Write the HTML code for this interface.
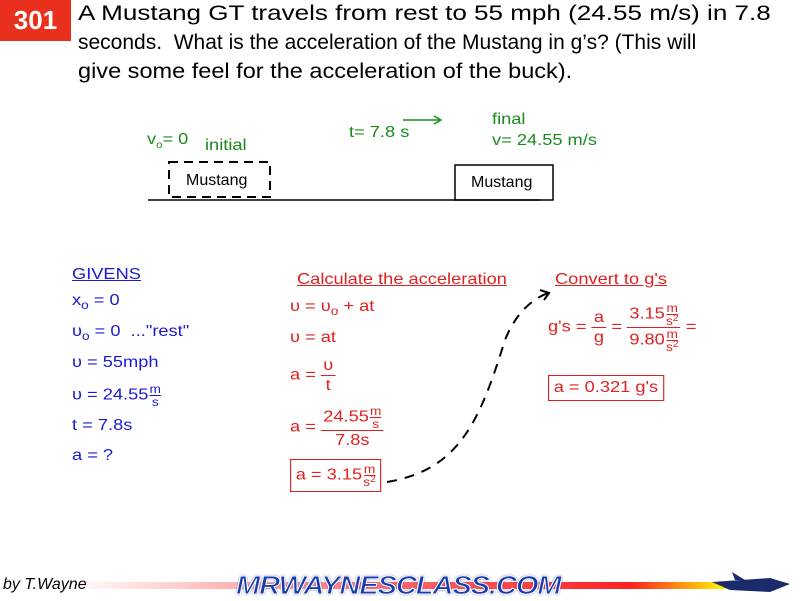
<!DOCTYPE html>
<html><head><style>
body{margin:0;width:800px;height:600px;background:#fff;position:relative;overflow:hidden;font-family:"Liberation Sans",sans-serif}
.a{position:absolute;white-space:nowrap;transform:scaleX(1.14);transform-origin:0 0}
.t{font-size:21px;color:#000;left:78px}
.g{color:#1a8a1a;font-size:16px}
.b{color:#1a1ad0;font-size:16px}
.r{color:#e02020;font-size:16px}
.fr{display:inline-flex;flex-direction:column;vertical-align:middle;align-items:center;font-size:16px}
.fr > .n{border-bottom:1px solid currentColor;line-height:19px;padding:0 2px}
.fr > .d{line-height:19px}
.sm{display:inline-flex;flex-direction:column;vertical-align:middle;align-items:center;font-size:12px;line-height:12px;margin-left:1px}
.sm > .n{border-bottom:1px solid currentColor}
sup{font-size:9px;vertical-align:4px;line-height:0}
</style></head><body>
<div class="a" style="left:0;top:0;width:71px;height:41px;background:#e8301c;color:#fff;font-weight:bold;font-size:26px;line-height:41px;text-align:center;transform:none">301</div>
<div class="a t" style="top:2px;transform:scaleX(1.24)">A Mustang GT travels from rest to 55 mph (24.55 m/s) in 7.8</div>
<div class="a t" style="top:31px;transform:none">seconds.&nbsp; What is the acceleration of the Mustang in g’s? (This will</div>
<div class="a t" style="top:60px;transform:scaleX(1.12)">give some feel for the acceleration of the buck).</div>

<div class="a g" style="left:147px;top:131px">v<sub style="font-size:10px">o</sub>= 0</div>
<div class="a g" style="left:205px;top:137px">initial</div>
<div class="a g" style="left:349px;top:124px">t= 7.8 s</div>
<svg style="position:absolute;left:0;top:0" width="800" height="600">
<line x1="403" y1="120" x2="440" y2="120" stroke="#1a8a1a" stroke-width="1.5"/>
<polyline points="434,116 441,120 434,124" fill="none" stroke="#1a8a1a" stroke-width="1.5"/>
<rect x="169" y="162" width="101" height="35" fill="none" stroke="#000" stroke-width="2" stroke-dasharray="9,6"/>
<rect x="455" y="165" width="98" height="35" fill="none" stroke="#000" stroke-width="1.5"/>
<line x1="148" y1="200" x2="540" y2="200" stroke="#000" stroke-width="1.5"/>
<path d="M387,482 C460,470 480,420 505,340 C515,315 530,300 548,293" fill="none" stroke="#000" stroke-width="2" stroke-dasharray="10,8"/>
<polyline points="540,290 549,293 544,300" fill="none" stroke="#000" stroke-width="2"/>
<defs><linearGradient id="lg" x1="0" x2="1"><stop offset="0" stop-color="#fff"/><stop offset="0.5" stop-color="#f66"/><stop offset="0.85" stop-color="#f22"/><stop offset="1" stop-color="#ff0"/></linearGradient></defs>
<rect x="70" y="582" width="660" height="7" fill="url(#lg)"/>
<path d="M712,582 L770,578 L790,584 L770,592 L730,590 Z" fill="#1a2a6a"/>
<path d="M732,572 L745,580 L735,580 Z" fill="#1a2a6a"/>
</svg>
<div class="a g" style="left:492px;top:111px">final</div>
<div class="a g" style="left:492px;top:132px">v= 24.55 m/s</div>
<div class="a" style="left:186px;top:172px;font-size:16px;transform:none">Mustang</div>
<div class="a" style="left:471px;top:174px;font-size:16px;transform:none">Mustang</div>

<div class="a b" style="left:72px;top:266px;text-decoration:underline">GIVENS</div>
<div class="a b" style="left:72px;top:292px">x<sub style="font-size:12px">o</sub> = 0</div>
<div class="a b" style="left:72px;top:323px">υ<sub style="font-size:12px">o</sub> = 0&nbsp; ..."rest"</div>
<div class="a b" style="left:72px;top:354px">υ = 55mph</div>
<div class="a b" style="left:72px;top:383px">υ = 24.55<span class="sm"><span class="n">m</span><span>s</span></span></div>
<div class="a b" style="left:72px;top:417px">t = 7.8s</div>
<div class="a b" style="left:72px;top:447px">a = ?</div>

<div class="a r" style="left:297px;top:271px;text-decoration:underline">Calculate the acceleration</div>
<div class="a r" style="left:290px;top:298px">υ = υ<sub style="font-size:12px">o</sub> + at</div>
<div class="a r" style="left:290px;top:329px">υ = at</div>
<div class="a r" style="left:290px;top:356px">a = <span class="fr"><span class="n">υ</span><span class="d">t</span></span></div>
<div class="a r" style="left:290px;top:405px">a = <span class="fr"><span class="n">24.55<span class="sm"><span class="n">m</span><span>s</span></span></span><span class="d">7.8s</span></span></div>
<div class="a r" style="left:290px;top:459px;border:1px solid #e02020;padding:3px 4px">a = 3.15<span class="sm"><span class="n">m</span><span>s<sup>2</sup></span></span></div>

<div class="a r" style="left:555px;top:271px;text-decoration:underline">Convert to g's</div>
<div class="a r" style="left:548px;top:302px">g's = <span class="fr"><span class="n">a</span><span class="d">g</span></span> = <span class="fr"><span class="n">3.15<span class="sm"><span class="n">m</span><span>s<sup>2</sup></span></span></span><span class="d">9.80<span class="sm"><span class="n">m</span><span>s<sup>2</sup></span></span></span></span> =</div>
<div class="a r" style="left:548px;top:375px;border:1px solid #e02020;padding:3px 4px">a = 0.321 g's</div>

<div class="a" style="left:3px;top:576px;font-size:16px;font-style:italic;transform:none">by T.Wayne</div>
<div class="a" style="left:236px;top:570px;font-size:26px;font-weight:bold;font-style:italic;color:#1a3ab0;letter-spacing:-1px;-webkit-text-stroke:1px #fff;text-shadow:0 0 2px #1a2a80;transform:scaleX(1.12)">MRWAYNESCLASS.COM</div>
</body></html>
